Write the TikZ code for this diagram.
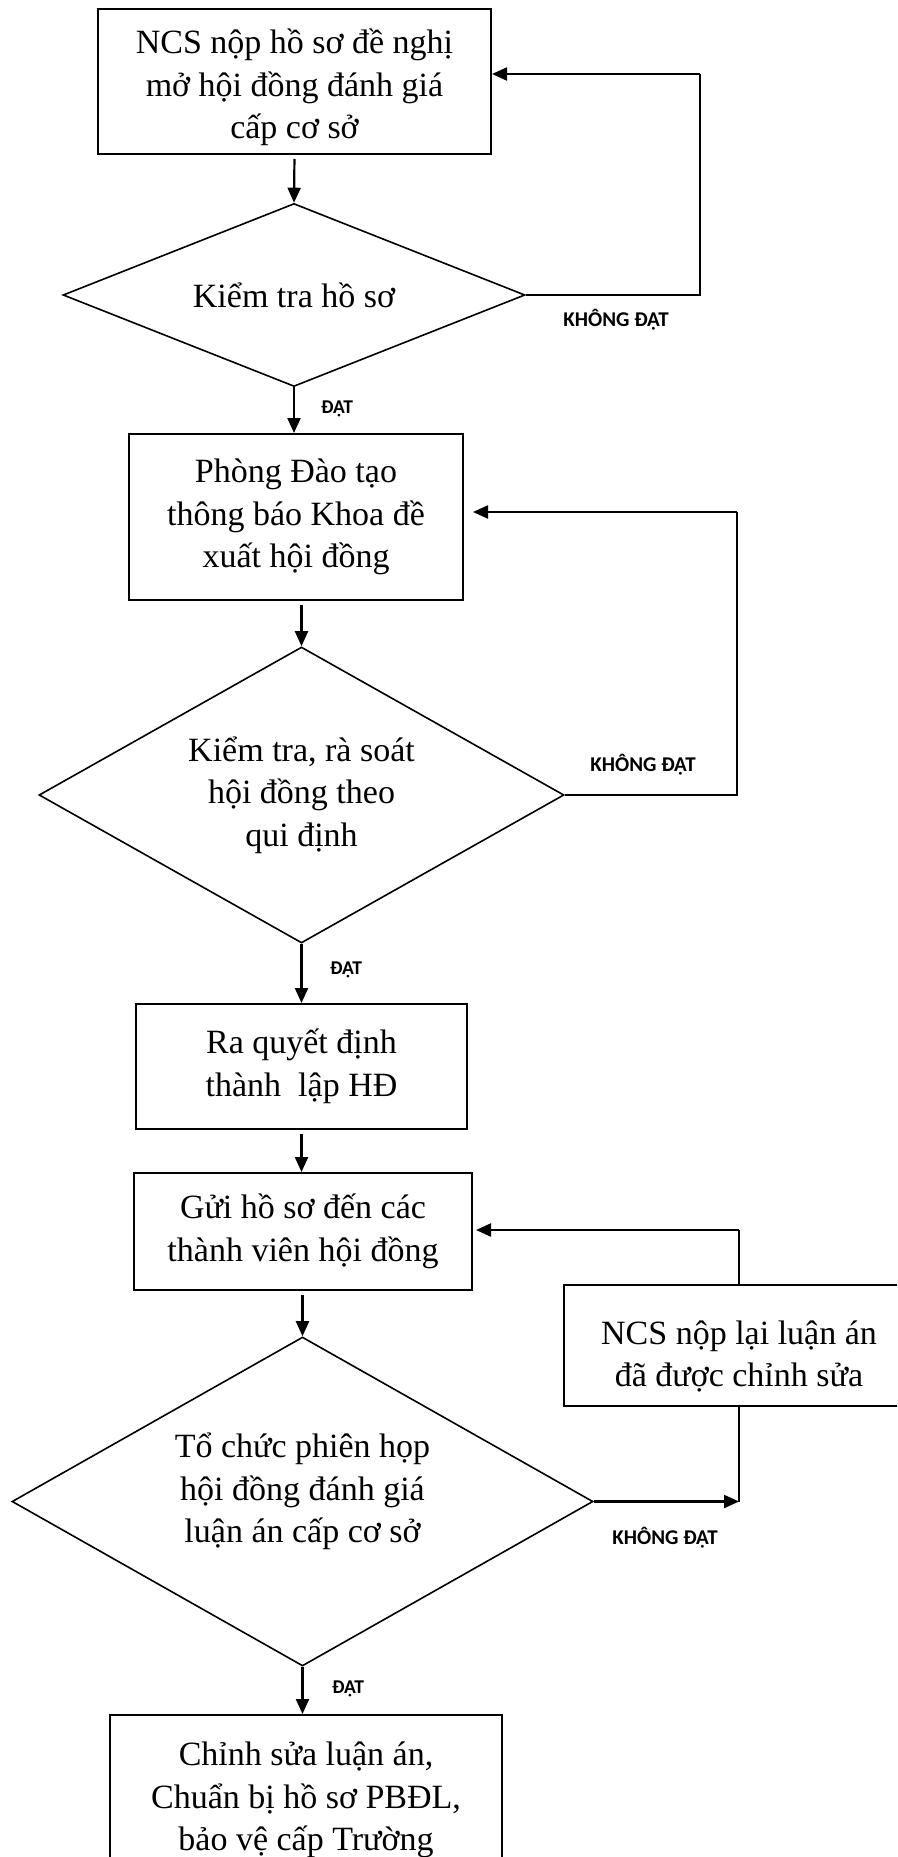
\documentclass[tikz,border=0pt]{standalone}
\usepackage{fontspec}
\setmainfont{Liberation Serif}
\newfontfamily\lblfont{Carlito}
\usetikzlibrary{shapes.geometric,arrows.meta}
\begin{document}
\begin{tikzpicture}[x=1pt,y=-1pt,
  every node/.style={font=\fontsize{34}{42.5}\selectfont, align=center},
  procbox/.style={draw, line width=2pt, rectangle, inner sep=0pt},
  decbox/.style={draw, line width=1.6pt, diamond, inner sep=0pt, aspect=2},
  txt/.style={inner sep=0pt},
  flow/.style={line width=2.2pt, -{Triangle[length=15pt,width=13pt]}},
  plain/.style={line width=1.7pt},
  lbl/.style={font=\lblfont\bfseries\fontsize{21}{24}\selectfont, anchor=base, inner sep=0pt},
  lbls/.style={font=\lblfont\bfseries\fontsize{19.5}{22}\selectfont, anchor=base, inner sep=0pt},
]
\clip (0,0) rectangle (897,1857);
\fill[white] (0,0) rectangle (897,1857);

% process boxes
\node[procbox, minimum width=393pt, minimum height=145pt] (b1) at (294.5,81.5) {};
\node[txt, yshift=-6pt] (b1t) at (b1.center)
  {NCS nộp hồ sơ đề nghị\\mở hội đồng đánh giá\\cấp cơ sở};
\node[procbox, minimum width=334pt, minimum height=166pt] (b2) at (296,517)
  {Phòng Đào tạo\\thông báo Khoa đề\\xuất hội đồng};
\node[procbox, minimum width=331pt, minimum height=125pt] (b3) at (301.5,1066.5)
  {Ra quyết định\\thành\ \ lập HĐ};
\node[procbox, minimum width=338pt, minimum height=117pt] (b4) at (303,1231.5)
  {Gửi hồ sơ đến các\\thành viên hội đồng};
\node[procbox, minimum width=350pt, minimum height=121pt] (b5) at (739,1345.5) {};
\node[txt, yshift=-11pt] (b5t) at (b5.center)
  {NCS nộp lại luận án\\đã được chỉnh sửa};
\node[procbox, minimum width=392pt, minimum height=170pt] (b6) at (306,1800)
  {Chỉnh sửa luận án,\\Chuẩn bị hồ sơ PBĐL,\\bảo vệ cấp Trường};

% decisions
\node[decbox, minimum width=462pt, minimum height=183pt] (d1) at (294,295)
  {Kiểm tra hồ sơ};
\node[decbox, minimum width=525pt, minimum height=296pt] (d2) at (301.5,795)
  {Kiểm tra, rà soát\\hội đồng theo\\qui định};
\node[decbox, minimum width=581pt, minimum height=329pt] (d3) at (302.5,1501.5) {};
\node[txt, yshift=10pt] (d3t) at (d3.center)
  {Tổ chức phiên họp\\hội đồng đánh giá\\luận án cấp cơ sở};

% main flow
\draw[flow, shorten <=4pt] (b1.south) -- (d1.north);
\draw[flow] (d1.south) -- (d1.south |- b2.north);
\draw[flow, shorten <=4pt] (d2.north |- b2.south) -- (d2.north);
\draw[flow] (d2.south) -- (d2.south |- b3.north);
\draw[flow, shorten <=4pt] (b3.south) -- (b3.south |- b4.north);
\draw[flow, shorten <=4pt] (d3.north |- b4.south) -- (d3.north);
\draw[flow] (d3.south) -- (d3.south |- b6.north);

% feedback loops
\coordinate (k1) at (700,74);
\draw[plain] (d1.east) -| (k1);
\draw[flow] (k1) -- (k1 -| b1.east);

\coordinate (k2) at (737,512);
\draw[plain] (d2.east) -| (k2);
\draw[flow, shorten >=9pt] (k2) -- (k2 -| b2.east);

\coordinate (k3) at (739,1230);
\draw[plain] (b5.north) -- (k3);
\draw[flow, shorten >=3pt] (k3) -- (k3 -| b4.east);
\draw[plain] (b5.south) -- (b5.south |- d3.east);
\draw[flow] (d3.east) -- (d3.east -| b5.south);

% labels
\node[lbl] (n1) at (616,326) {KHÔNG ĐẠT};
\node[lbl] (n2) at (643,771) {KHÔNG ĐẠT};
\node[lbl] (n3) at (665,1544) {KHÔNG ĐẠT};
\node[lbls] (p1) at (337,413) {ĐẠT};
\node[lbls] (p2) at (346,974) {ĐẠT};
\node[lbls] (p3) at (348,1693) {ĐẠT};
\end{tikzpicture}
\end{document}
